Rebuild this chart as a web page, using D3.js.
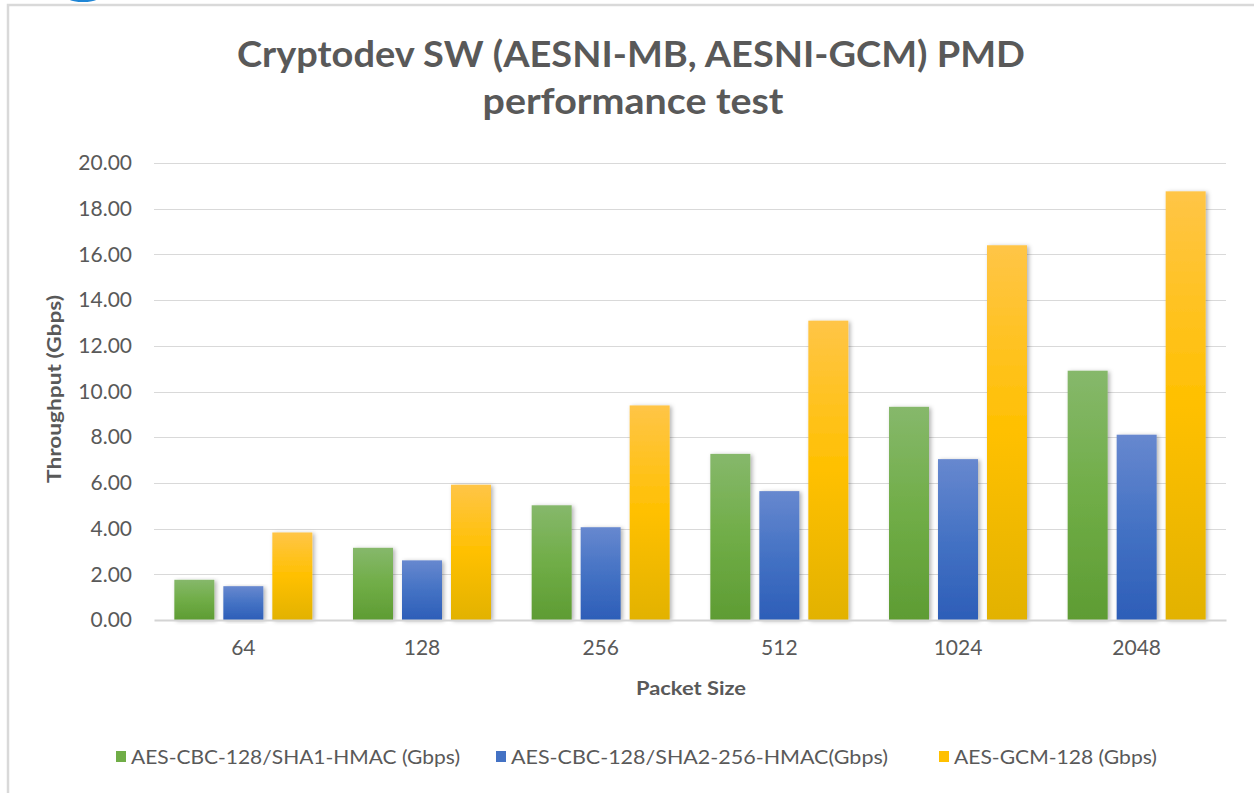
<!DOCTYPE html>
<html>
<head>
<meta charset="utf-8">
<script src="https://cdn.jsdelivr.net/npm/d3@7"></script>
<style>
  body { margin: 0; background: #fff; }
  svg { display: block; }
  text { font-family: Lato, "Open Sans", sans-serif; fill: #595959; }
</style>
</head>
<body>
<div class="chart"></div>
<script>
const categories = ['64', '128', '256', '512', '1024', '2048'];
const seriesNames = [
  'AES-CBC-128/SHA1-HMAC (Gbps)',
  'AES-CBC-128/SHA2-256-HMAC(Gbps)',
  'AES-GCM-128 (Gbps)',
];
const sha1Values = [1.76, 3.16, 5.02, 7.27, 9.33, 10.91];
const sha256Values = [1.48, 2.61, 4.06, 5.64, 7.04, 8.11];
const gcmValues = [3.83, 5.92, 9.39, 13.1, 16.4, 18.76];
const yTicks = [0, 2, 4, 6, 8, 10, 12, 14, 16, 18, 20];

const width = 1254;
const height = 793;
const plot = { left: 154, right: 1226, top: 163, bottom: 620 };

// gradient stops per series: top, middle, bottom
const gradients = [
  ['#86b86b', '#70ad47', '#5e9c33'],
  ['#6788cf', '#4472c4', '#2d5eb8'],
  ['#ffc547', '#ffc000', '#e2b200'],
];

const svg = d3
  .select('.chart')
  .append('svg')
  .attr('width', width)
  .attr('height', height);

const defs = svg.append('defs');
gradients.forEach((g, i) => {
  const lg = defs
    .append('linearGradient')
    .attr('id', 'grad' + i)
    .attr('x1', 0)
    .attr('y1', 0)
    .attr('x2', 0)
    .attr('y2', 1);
  lg.append('stop').attr('offset', '0%').attr('stop-color', g[0]);
  lg.append('stop').attr('offset', '50%').attr('stop-color', g[1]);
  lg.append('stop').attr('offset', '100%').attr('stop-color', g[2]);
});
defs
  .append('filter')
  .attr('id', 'shadow')
  .attr('x', '-20%')
  .attr('y', '-5%')
  .attr('width', '150%')
  .attr('height', '115%')
  .append('feDropShadow')
  .attr('dx', 2)
  .attr('dy', 1)
  .attr('stdDeviation', 2)
  .attr('flood-color', '#000')
  .attr('flood-opacity', 0.3);

// little blue shape cut off at the top of the screenshot
svg
  .append('ellipse')
  .attr('cx', 83)
  .attr('cy', -9)
  .attr('rx', 23)
  .attr('ry', 11)
  .attr('fill', '#1f86d6');

// chart frame
svg
  .append('rect')
  .attr('x', 8)
  .attr('y', 5)
  .attr('width', 1400)
  .attr('height', 1000)
  .attr('fill', '#fff')
  .attr('stroke', '#d9d9d9')
  .attr('stroke-width', 2.5);

// title
const title = svg.append('g');
title
  .append('text')
  .attr('x', 631)
  .attr('y', 67)
  .attr('text-anchor', 'middle')
  .style('font-size', '37px')
  .style('font-weight', 'bold')
  .attr('textLength', 788)
  .attr('lengthAdjust', 'spacingAndGlyphs')
  .text('Cryptodev SW (AESNI-MB, AESNI-GCM) PMD');
title
  .append('text')
  .attr('x', 633)
  .attr('y', 114)
  .attr('text-anchor', 'middle')
  .style('font-size', '37px')
  .style('font-weight', 'bold')
  .attr('textLength', 301)
  .attr('lengthAdjust', 'spacingAndGlyphs')
  .text('performance test');

const y = d3.scaleLinear().domain([0, 20]).range([plot.bottom, plot.top]);
const x = d3
  .scaleBand()
  .domain(categories)
  .range([plot.left, plot.right]);
const xSub = d3
  .scaleBand()
  .domain([0, 1, 2])
  .range([0, x.bandwidth()])
  .paddingInner(9 / 49)
  .paddingOuter(0.415);

// gridlines
svg
  .append('g')
  .selectAll('line')
  .data(yTicks.filter((d) => d > 0))
  .join('line')
  .attr('x1', plot.left)
  .attr('x2', plot.right)
  .attr('y1', (d) => Math.round(y(d)) + 0.5)
  .attr('y2', (d) => Math.round(y(d)) + 0.5)
  .attr('stroke', '#d9d9d9')
  .attr('stroke-width', 1.2);

// y axis labels
const yAxis = svg
  .append('g')
  .attr('transform', 'translate(' + plot.left + ',0)')
  .call(
    d3
      .axisLeft(y)
      .tickValues(yTicks)
      .tickFormat(d3.format('.2f'))
      .tickSize(0)
      .tickPadding(22)
  );
yAxis.select('.domain').remove();
yAxis
  .selectAll('text')
  .style('font-size', '21px')
  .style('font-family', 'Lato, sans-serif')
  .attr('fill', '#595959');

// bars
const allValues = [sha1Values, sha256Values, gcmValues];
allValues.forEach((values, s) => {
  svg
    .append('g')
    .selectAll('rect')
    .data(values)
    .join('rect')
    .attr('x', (d, i) => x(categories[i]) + xSub(s))
    .attr('y', (d) => y(d))
    .attr('width', xSub.bandwidth())
    .attr('height', (d) => y(0) - y(d))
    .attr('fill', 'url(#grad' + s + ')')
    .attr('filter', 'url(#shadow)');
});

// x axis
const xAxis = svg
  .append('g')
  .attr('transform', 'translate(0,' + plot.bottom + ')')
  .call(d3.axisBottom(x).tickSize(0).tickPadding(20));
xAxis
  .select('.domain')
  .attr('stroke', '#d4d4d4')
  .attr('stroke-width', 2);
xAxis
  .selectAll('text')
  .style('font-size', '21px')
  .style('font-family', 'Lato, sans-serif')
  .attr('fill', '#595959');

// axis titles
svg
  .append('text')
  .attr('x', 691)
  .attr('y', 695)
  .attr('text-anchor', 'middle')
  .style('font-size', '19px')
  .style('font-weight', 'bold')
  .attr('textLength', 110)
  .attr('lengthAdjust', 'spacingAndGlyphs')
  .text('Packet Size');

svg
  .append('text')
  .attr('transform', 'translate(61,389) rotate(-90)')
  .attr('text-anchor', 'middle')
  .style('font-size', '19px')
  .style('font-weight', 'bold')
  .attr('textLength', 188)
  .attr('lengthAdjust', 'spacingAndGlyphs')
  .text('Throughput (Gbps)');

// legend
const legendPos = [
  { sx: 116, tx: 131, w: 329 },
  { sx: 496, tx: 511, w: 377 },
  { sx: 939, tx: 954, w: 203 },
];
const legend = svg.append('g');
seriesNames.forEach((name, i) => {
  legend
    .append('rect')
    .attr('x', legendPos[i].sx)
    .attr('y', 751)
    .attr('width', 10)
    .attr('height', 11)
    .attr('fill', gradients[i][1]);
  legend
    .append('text')
    .attr('x', legendPos[i].tx)
    .attr('y', 764)
    .style('font-size', '19px')
    .attr('textLength', legendPos[i].w)
    .attr('lengthAdjust', 'spacingAndGlyphs')
    .text(name);
});
</script>
</body>
</html>
